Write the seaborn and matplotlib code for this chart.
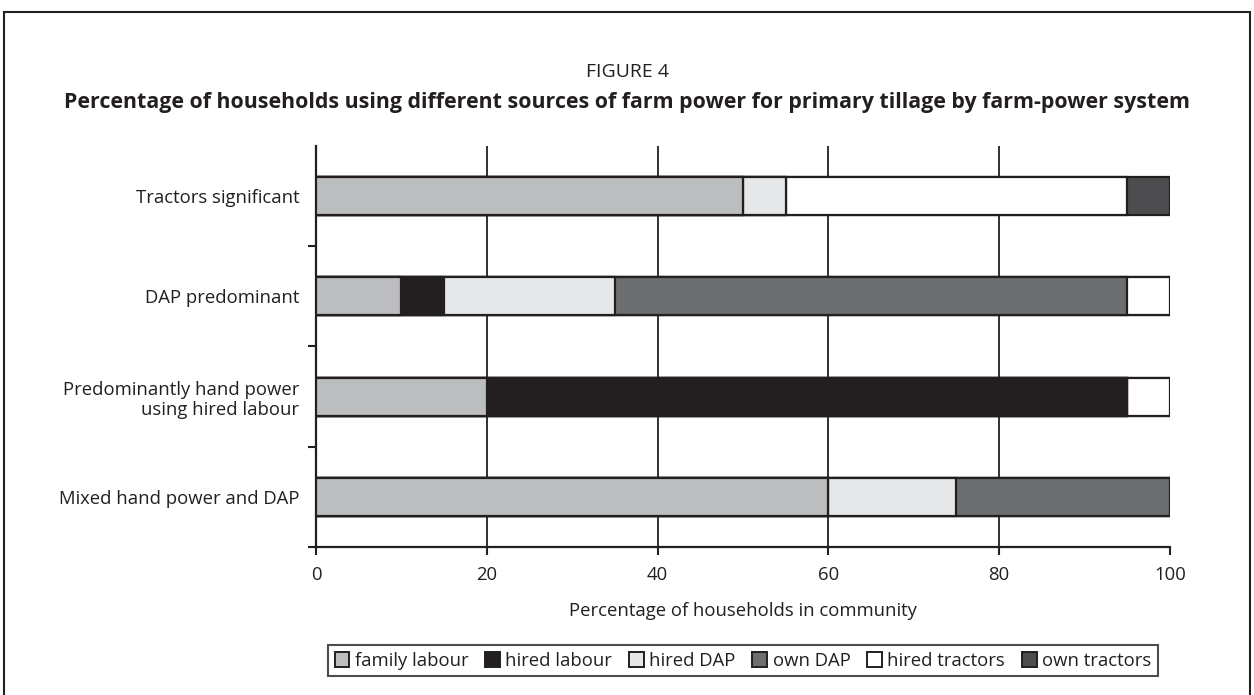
import matplotlib
matplotlib.use("Agg")
import matplotlib.pyplot as plt
import seaborn as sns
import numpy as np
import pandas as pd
from matplotlib.patches import Patch, Rectangle

categories = ["Tractors significant", "DAP predominant",
              "Predominantly hand power\nusing hired labour", "Mixed hand power and DAP"]
series_names = ["family labour", "hired labour", "hired DAP", "own DAP", "hired tractors", "own tractors"]
family_labour = [50, 10, 20, 60]
hired_labour = [0, 5, 75, 0]
hired_dap = [5, 20, 0, 15]
own_dap = [0, 60, 0, 25]
hired_tractors = [40, 5, 5, 0]
own_tractors = [5, 0, 0, 0]
colors = ["#bcbdbf", "#231f20", "#e6e7e8", "#6d6e70", "#ffffff", "#4d4d4f"]
x_ticks = [0, 20, 40, 60, 80, 100]

sns.set_theme(style="white")
plt.rcParams['font.family'] = ['Open Sans', 'DejaVu Sans']

fig = plt.figure(figsize=(12.54, 6.95), dpi=100)
ax = fig.add_axes([0.252, 0.213, 0.681, 0.577])

data = [family_labour, hired_labour, hired_dap, own_dap, hired_tractors, own_tractors]
cum = np.cumsum(np.array(data, dtype=float), axis=0)
for i in range(len(series_names) - 1, -1, -1):
    df = pd.DataFrame({"cat": categories, "val": cum[i]})
    sns.barplot(data=df, y="cat", x="val", orient="h", color=colors[i],
                width=0.38, edgecolor="#231f20", linewidth=1.6, ax=ax,
                saturation=1, zorder=3)

ax.set_xlim(0, 100)
ax.set_ylim(3.5, -0.5)
ax.set_xticks(x_ticks)
ax.set_xticklabels([str(t) for t in x_ticks], fontsize=13.3, color="#231f20")
for t in x_ticks[1:-1]:
    ax.axvline(t, color="#231f20", lw=1.3, zorder=1)
ax.set_yticks(range(len(categories)))
ax.set_yticklabels(categories, fontsize=13.3, color="#231f20")
ax.set_yticks([0.5, 1.5, 2.5, 3.5], minor=True)
ax.tick_params(axis="y", which="major", length=0, pad=12)
ax.tick_params(axis="y", which="minor", length=6, width=1.5, color="#231f20", left=True)
ax.tick_params(axis="x", which="major", length=6, width=1.5, color="#231f20", bottom=True, pad=8)
for s in ["top", "right"]:
    ax.spines[s].set_visible(False)
for s in ["left", "bottom"]:
    ax.spines[s].set_color("#231f20")
    ax.spines[s].set_linewidth(1.6)
ax.set_ylabel("")
ax.set_xlabel("Percentage of households in community", fontsize=13.3, labelpad=13, color="#231f20")

fig.text(0.5, 0.896, "FIGURE 4", ha="center", va="center", fontsize=14, color="#231f20")
fig.text(0.5, 0.852, "Percentage of households using different sources of farm power for primary tillage by farm-power system",
         ha="center", va="center", fontsize=15.4, fontweight="bold", color="#231f20")

handles = [Patch(facecolor=c, edgecolor="#231f20", linewidth=1.4, label=n) for c, n in zip(colors, series_names)]
leg = fig.legend(handles=handles, loc="center", bbox_to_anchor=(0.5925, 0.049), ncol=6, fontsize=13.3,
                 frameon=True, fancybox=False, handlelength=0.8, handleheight=0.8,
                 handletextpad=0.3, columnspacing=0.9, borderpad=0.35, labelcolor="#231f20")
leg.get_frame().set_edgecolor("#231f20")
leg.get_frame().set_linewidth(1.5)

fig.patches.append(Rectangle((0.003, -0.01), 0.994, 0.993, transform=fig.transFigure,
                             fill=False, edgecolor="#231f20", linewidth=1.5))

fig.savefig("out.png", dpi=100)
